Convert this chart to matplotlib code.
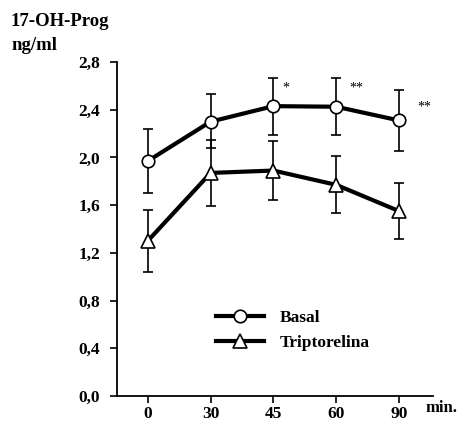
import matplotlib
matplotlib.use("Agg")
import matplotlib.pyplot as plt

times = ["0", "30", "45", "60", "90"]
basal = [1.97, 2.30, 2.43, 2.425, 2.31]
basal_err_lo = [0.27, 0.225, 0.24, 0.235, 0.255]
basal_err_hi = [0.27, 0.235, 0.235, 0.24, 0.255]
tript = [1.30, 1.87, 1.89, 1.77, 1.55]
tript_err = [0.26, 0.28, 0.25, 0.24, 0.235]
yticks = [0.0, 0.4, 0.8, 1.2, 1.6, 2.0, 2.4, 2.8]
stars = ["", "", "*", "**", "**"]

plt.rcParams['font.family'] = ['Liberation Serif', 'DejaVu Serif']
plt.rcParams['font.weight'] = 'bold'

fig = plt.figure(figsize=(4.72, 4.24), dpi=100)
ax = fig.add_axes([117/472, 1-396/424, (433-117)/472, (396-62)/424])

x = list(range(len(times)))
ax.errorbar(x, basal, yerr=[basal_err_lo, basal_err_hi], fmt='none', ecolor='black',
            elinewidth=1.2, capsize=3.5, capthick=1.2, zorder=2)
ax.errorbar(x, tript, yerr=tript_err, fmt='none', ecolor='black',
            elinewidth=1.2, capsize=3.5, capthick=1.2, zorder=2)
ax.plot(x, basal, '-', color='black', lw=3.0, marker='o', ms=9, mfc='white',
        mec='black', mew=1.2, label='Basal', zorder=3)
ax.plot(x, tript, '-', color='black', lw=3.0, marker='^', ms=10, mfc='white',
        mec='black', mew=1.2, label='Triptorelina', zorder=3)

# significance marks (offsets relative to the data point)
offsets = [(0, 0), (0, 0), (0.2, 0.15), (0.32, 0.155), (0.4, 0.11)]
for i, s in enumerate(stars):
    if s:
        ax.text(i + offsets[i][0], basal[i] + offsets[i][1], s, ha='center', va='center',
                fontsize=10, fontweight='normal')

ax.set_xlim(-0.49, 4.54)
ax.set_ylim(0, 2.8)
ax.set_xticks(x)
ax.set_xticklabels(times)
ax.set_yticks(yticks)
ax.set_yticklabels([f"{v:.1f}".replace('.', ',') for v in yticks])
for side in ['top', 'right']:
    ax.spines[side].set_visible(False)
ax.spines['left'].set_linewidth(1.3)
ax.spines['bottom'].set_linewidth(1.3)
ax.tick_params(axis='both', direction='out', length=5, width=1.2, labelsize=12.5)
ax.tick_params(axis='y', pad=7)
ax.tick_params(axis='x', pad=2)
for lbl in ax.get_xticklabels() + ax.get_yticklabels():
    lbl.set_fontweight('bold')

fig.text(425/472, 1-408/424, "min.", fontsize=12, fontweight='bold', va='center', ha='left')
fig.text(11/472, 1-22/424, "17-OH-Prog", fontsize=13.5, fontweight='bold', va='center', ha='left')
fig.text(11/472, 1-45/424, "ng/ml", fontsize=13.5, fontweight='bold', va='center', ha='left')

leg = ax.legend(loc='upper left', bbox_to_anchor=((200-117)/316, (396-294)/334), frameon=False,
                handlelength=2.8, fontsize=12.5, labelspacing=0.5, handletextpad=0.9)
for t in leg.get_texts():
    t.set_fontweight('bold')

fig.savefig("out.png", dpi=100)
